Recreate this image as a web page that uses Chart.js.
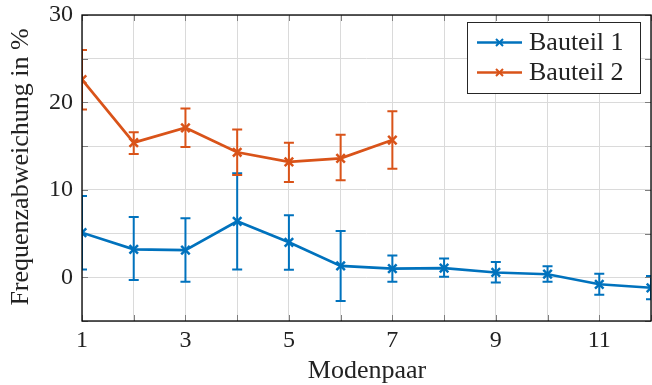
<!DOCTYPE html>
<html>
<head>
<meta charset="utf-8">
<script src="https://cdn.jsdelivr.net/npm/chart.js@4.4.1/dist/chart.umd.min.js"></script>
<style>
  html, body { margin: 0; padding: 0; background: #fff; }
  #wrap { width: 652px; height: 385px; position: relative; }
</style>
</head>
<body>
<div id="wrap"><canvas id="c" width="652" height="385"></canvas></div>
<script>
const modes = [1, 2, 3, 4, 5, 6, 7, 8, 9, 10, 11, 12];
const seriesNames = ['Bauteil 1', 'Bauteil 2'];
const bauteil1 = [5.1, 3.2, 3.1, 6.4, 4.0, 1.3, 1.0, 1.05, 0.55, 0.35, -0.8, -1.2];
const bauteil1Upper = [9.3, 6.9, 6.75, 11.9, 7.1, 5.3, 2.5, 2.15, 1.75, 1.25, 0.4, 0.15];
const bauteil1Lower = [0.9, -0.3, -0.5, 0.9, 0.85, -2.7, -0.5, 0.05, -0.6, -0.5, -2.0, -2.5];
const bauteil2 = [22.6, 15.4, 17.1, 14.3, 13.2, 13.6, 15.7];
const bauteil2Upper = [26.0, 16.6, 19.3, 16.9, 15.4, 16.3, 19.0];
const bauteil2Lower = [19.2, 14.1, 14.9, 11.7, 10.9, 11.1, 12.4];
const xTickLabels = [1, 3, 5, 7, 9, 11];
const yTickLabels = [0, 10, 20, 30];
const xTitle = 'Modenpaar';
const yTitle = 'Frequenzabweichung in %';

const BLUE = '#0072BD';
const ORANGE = '#D95319';
const FONT = '"Liberation Serif", "Times New Roman", serif';
const FS = 24;

function pts(vals) { return vals.map((v, i) => ({ x: modes[i], y: v })); }
const errors = [
  { lo: bauteil1Lower, hi: bauteil1Upper },
  { lo: bauteil2Lower, hi: bauteil2Upper }
];

const errorBarPlugin = {
  id: 'errbars',
  beforeDatasetsDraw(chart) {
    const { ctx, chartArea: a, scales: { x, y } } = chart;
    ctx.save();
    ctx.beginPath();
    ctx.rect(a.left, a.top, a.right - a.left, a.bottom - a.top);
    ctx.clip();
    chart.data.datasets.forEach((ds, di) => {
      const e = errors[di];
      ctx.strokeStyle = ds.borderColor;
      ctx.lineWidth = 2;
      ds.data.forEach((p, i) => {
        const px = x.getPixelForValue(p.x);
        const yt = y.getPixelForValue(e.hi[i]);
        const yb = y.getPixelForValue(e.lo[i]);
        ctx.beginPath();
        ctx.moveTo(px, yt); ctx.lineTo(px, yb);
        ctx.moveTo(px - 5, yt); ctx.lineTo(px + 5, yt);
        ctx.moveTo(px - 5, yb); ctx.lineTo(px + 5, yb);
        ctx.stroke();
      });
    });
    ctx.restore();
  }
};

const framePlugin = {
  id: 'frame',
  beforeDatasetsDraw(chart) {
    const { ctx, chartArea: a, scales: { x, y } } = chart;
    ctx.save();
    ctx.strokeStyle = '#7f7f7f';
    ctx.lineWidth = 1;
    const tl = 6;
    x.ticks.forEach(t => {
      const px = Math.round(x.getPixelForValue(t.value)) + 0.5;
      ctx.beginPath();
      ctx.moveTo(px, a.top); ctx.lineTo(px, a.top + tl);
      ctx.moveTo(px, a.bottom); ctx.lineTo(px, a.bottom - tl);
      ctx.stroke();
    });
    y.ticks.forEach(t => {
      const py = Math.round(y.getPixelForValue(t.value)) + 0.5;
      ctx.beginPath();
      ctx.moveTo(a.left, py); ctx.lineTo(a.left + tl, py);
      ctx.moveTo(a.right, py); ctx.lineTo(a.right - tl, py);
      ctx.stroke();
    });
    ctx.restore();
  },
  afterDraw(chart) {
    const { ctx, chartArea: a } = chart;
    ctx.save();
    ctx.strokeStyle = '#000';
    ctx.lineWidth = 1.3;
    ctx.strokeRect(a.left, a.top, a.right - a.left, a.bottom - a.top);
    // axis titles
    ctx.fillStyle = '#222';
    ctx.font = '26px ' + FONT;
    ctx.textAlign = 'center';
    ctx.textBaseline = 'alphabetic';
    ctx.fillText(xTitle, 367, 378);
    ctx.textBaseline = 'middle';
    ctx.translate(21, 167);
    ctx.rotate(-Math.PI / 2);
    ctx.fillText(yTitle, 0, 0);
    ctx.restore();

    // legend
    ctx.save();
    const lx = 467, ly = 22, lw = 173, lh = 71;
    ctx.fillStyle = '#fff';
    ctx.fillRect(lx, ly, lw, lh);
    ctx.strokeStyle = '#262626';
    ctx.lineWidth = 1;
    ctx.strokeRect(lx + 0.5, ly + 0.5, lw, lh);
    chart.data.datasets.forEach((ds, i) => {
      const cy = 42.5 + i * 30;
      ctx.strokeStyle = ds.borderColor;
      ctx.lineWidth = 2.5;
      ctx.beginPath();
      ctx.moveTo(477, cy); ctx.lineTo(522, cy);
      ctx.stroke();
      const mx = 499.5, r = 3.5;
      ctx.lineWidth = 2;
      ctx.beginPath();
      ctx.moveTo(mx - r, cy - r); ctx.lineTo(mx + r, cy + r);
      ctx.moveTo(mx - r, cy + r); ctx.lineTo(mx + r, cy - r);
      ctx.stroke();
      ctx.fillStyle = '#222';
      ctx.font = '26px ' + FONT;
      ctx.textAlign = 'left';
      ctx.textBaseline = 'middle';
      ctx.fillText(ds.label, 529, cy + 1);
    });
    ctx.restore();
  }
};

new Chart(document.getElementById('c'), {
  type: 'line',
  data: {
    datasets: [
      { label: seriesNames[0], data: pts(bauteil1), borderColor: BLUE, backgroundColor: BLUE,
        borderWidth: 2.7, pointStyle: 'crossRot', pointRadius: 6, pointBorderWidth: 2.5,
        pointHoverRadius: 6, tension: 0, order: 2 },
      { label: seriesNames[1], data: pts(bauteil2), borderColor: ORANGE, backgroundColor: ORANGE,
        borderWidth: 2.7, pointStyle: 'crossRot', pointRadius: 6, pointBorderWidth: 2.5,
        pointHoverRadius: 6, tension: 0, order: 1 }
    ]
  },
  options: {
    responsive: false,
    animation: false,
    devicePixelRatio: 1,
    layout: { autoPadding: false, padding: { top: 15, right: 1, left: 0, bottom: 0 } },
    plugins: { legend: { display: false }, tooltip: { enabled: false } },
    scales: {
      x: {
        type: 'linear', min: 1, max: 12,
        border: { display: false },
        grid: { color: '#dadada', lineWidth: 1, drawTicks: false },
        afterFit(s) { s.height = 64; s.paddingLeft = 0; s.paddingRight = 0; },
        afterBuildTicks(s) { s.ticks = modes.map(v => ({ value: v })); },
        ticks: {
          padding: 5, color: '#222', font: { family: FONT, size: FS },
          autoSkip: false, maxRotation: 0,
          callback: v => xTickLabels.includes(v) ? String(v) : ''
        }
      },
      y: {
        type: 'linear', min: -5, max: 30,
        border: { display: false },
        grid: { color: '#dadada', lineWidth: 1, drawTicks: false },
        afterFit(s) { s.width = 82; s.paddingTop = 0; s.paddingBottom = 0; },
        ticks: {
          stepSize: 5, padding: 9, color: '#222', font: { family: FONT, size: FS },
          callback: v => yTickLabels.includes(v) ? String(v) : ''
        }
      }
    }
  },
  plugins: [errorBarPlugin, framePlugin]
});
</script>
</body>
</html>
